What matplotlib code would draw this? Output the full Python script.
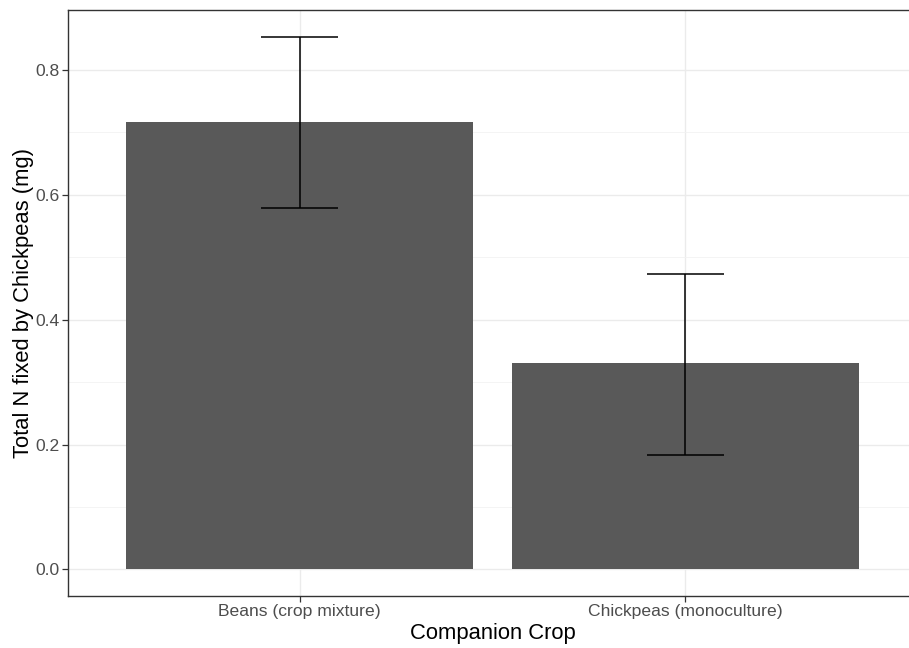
import matplotlib
matplotlib.use("Agg")
import matplotlib.pyplot as plt
import numpy as np
from matplotlib.ticker import MultipleLocator

categories = ["Beans (crop mixture)", "Chickpeas (monoculture)"]
means = [0.7165, 0.3299]
upper = [0.8536, 0.4728]
lower = [0.5789, 0.1837]
yticks = [0.0, 0.2, 0.4, 0.6, 0.8]

plt.rcParams['font.family'] = ['Liberation Sans', 'DejaVu Sans']

fig = plt.figure(figsize=(9.09, 6.48), dpi=100)
ax = fig.add_axes([68/909, 1-596/648, (917-68)/909, (596-10)/648])

x = np.arange(1, len(categories) + 1)
ax.bar(x, means, width=0.9, color="#595959", zorder=2)
m = np.array(means)
yerr = [m - np.array(lower), np.array(upper) - m]
ax.errorbar(x, means, yerr=yerr, fmt='none', ecolor='black', elinewidth=1.1,
            capsize=0, zorder=3)
# caps of width 0.2
for xi, lo, hi in zip(x, lower, upper):
    ax.hlines([lo, hi], xi - 0.1, xi + 0.1, colors='black', linewidth=1.1, zorder=3)

ymax = max(upper)
ax.set_ylim(-0.05 * ymax, ymax * 1.05)
ax.set_xlim(0.4, 2.6)
ax.set_yticks(yticks)
ax.set_yticklabels([f"{v:.1f}" for v in yticks])
ax.yaxis.set_minor_locator(MultipleLocator(0.1))
ax.set_xticks(x)
ax.set_xticklabels(categories)

ax.grid(True, which='major', color='#EBEBEB', linewidth=1.0, zorder=0)
ax.grid(True, which='minor', axis='y', color='#F2F2F2', linewidth=0.6, zorder=0)
ax.set_axisbelow(True)

for s in ax.spines.values():
    s.set_color('#333333')
    s.set_linewidth(1.0)

ax.tick_params(axis='both', which='major', length=4, width=0.9, color='#333333',
               labelcolor='#4D4D4D', labelsize=12.6, pad=2)
ax.tick_params(axis='y', which='minor', length=0)
ax.tick_params(axis='x', which='minor', length=0)

ax.set_xlabel("Companion Crop", fontsize=15.8, color='black', labelpad=3)
ax.set_ylabel("Total N fixed by Chickpeas (mg)", fontsize=15.8, color='black', labelpad=1)

fig.savefig("out.png", dpi=100)
